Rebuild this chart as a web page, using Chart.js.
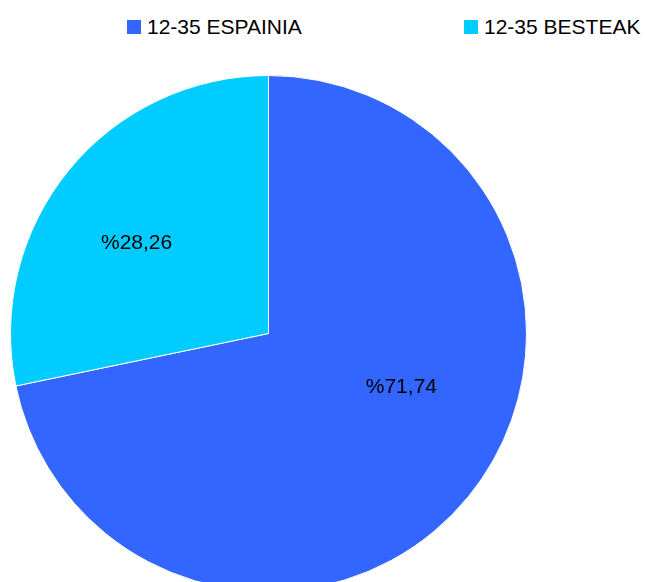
<!DOCTYPE html>
<html>
<head>
<meta charset="utf-8">
<script src="https://cdn.jsdelivr.net/npm/chart.js@4/dist/chart.umd.min.js"></script>
<style>
  html, body { margin: 0; padding: 0; background: #ffffff; overflow: hidden; }
  #wrap { position: relative; width: 645px; height: 582px; overflow: hidden; background: #fff; }
  #pie { position: absolute; left: 10px; top: 75px; }
  .leg { position: absolute; top: 14px; height: 26px; display: flex; align-items: center;
         font-family: "Liberation Sans", Arial, sans-serif; font-size: 21px; color: #000; white-space: nowrap; }
  .leg .box { width: 14px; height: 14px; margin-right: 6px; display: inline-block; }
</style>
</head>
<body>
<div id="wrap">
  <div id="legend"></div>
  <canvas id="pie" width="517" height="517"></canvas>
</div>
<script>
const categories = ["12-35 ESPAINIA", "12-35 BESTEAK"];
const values = [71.74, 28.26];
const valueLabels = ["%71,74", "%28,26"];
const colors = ["#3366FF", "#00CCFF"];
// label placement styling (angle shift in degrees from mid-angle, distance as fraction of radius)
const labelAngleShift = [-17, -4.8];
const labelRadiusFrac = [0.556, 0.619];
const legendLeft = [127, 464];

// HTML legend
const legendEl = document.getElementById('legend');
categories.forEach((c, i) => {
  const d = document.createElement('div');
  d.className = 'leg';
  d.style.left = legendLeft[i] + 'px';
  const b = document.createElement('span');
  b.className = 'box';
  b.style.background = colors[i];
  d.appendChild(b);
  d.appendChild(document.createTextNode(c));
  legendEl.appendChild(d);
});

const labelPlugin = {
  id: 'sliceLabels',
  afterDatasetsDraw(chart) {
    const ctx = chart.ctx;
    const meta = chart.getDatasetMeta(0);
    ctx.save();
    ctx.font = '21px "Liberation Sans", Arial, sans-serif';
    ctx.fillStyle = '#000';
    ctx.textAlign = 'center';
    ctx.textBaseline = 'middle';
    meta.data.forEach((arc, i) => {
      const p = arc.getProps(['x', 'y', 'startAngle', 'endAngle', 'outerRadius'], true);
      const a = (p.startAngle + p.endAngle) / 2 + labelAngleShift[i] * Math.PI / 180;
      const r = p.outerRadius * labelRadiusFrac[i];
      ctx.fillText(valueLabels[i], p.x + Math.cos(a) * r, p.y + Math.sin(a) * r);
    });
    ctx.restore();
  }
};

new Chart(document.getElementById('pie'), {
  type: 'pie',
  data: {
    labels: categories,
    datasets: [{
      data: values,
      backgroundColor: colors,
      borderColor: '#ffffff',
      borderWidth: 1
    }]
  },
  options: {
    responsive: false,
    animation: false,
    layout: { padding: 0 },
    plugins: {
      legend: { display: false },
      tooltip: { enabled: false }
    }
  },
  plugins: [labelPlugin]
});
</script>
</body>
</html>
